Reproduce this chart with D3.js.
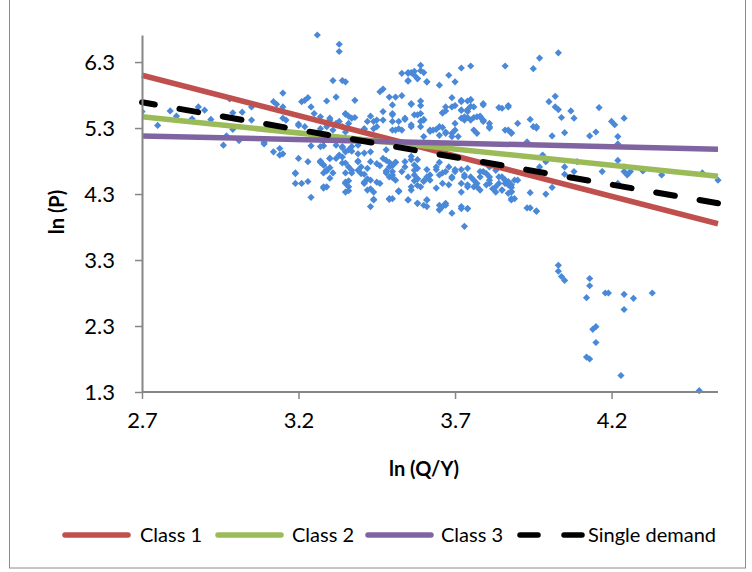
<!DOCTYPE html>
<html>
<head>
<meta charset="utf-8">
<script src="https://cdn.jsdelivr.net/npm/d3@7"></script>
<style>
  body { margin: 0; background: #fff; }
  text { font-family: Lato, "Open Sans", sans-serif; fill: #000; }
</style>
</head>
<body>
<svg id="chart" width="752" height="572"></svg>
<script>
// axis ticks
var xTicks = [2.7, 3.2, 3.7, 4.2];
var yTicks = [1.3, 2.3, 3.3, 4.3, 5.3, 6.3];

// observed points: [ln(Q/Y), ln(P)]
var observations = [
  [3.26,6.71],[2.70,5.55],[2.75,5.34],[2.79,5.56],[2.81,5.48],[2.88,5.62],[2.90,5.57],[2.86,5.44],[2.92,5.43],[2.96,5.04],
  [2.99,5.28],[2.99,5.53],[3.01,5.11],[3.02,5.54],[3.05,5.42],[3.05,5.62],[2.98,5.74],[3.09,5.08],[3.12,5.70],[3.15,5.83],
  [3.15,5.62],[3.12,4.94],[3.15,4.91],[3.14,4.99],[3.15,5.45],[3.20,4.84],[3.19,4.61],[3.19,4.46],[3.21,4.46],[3.23,4.49],
  [3.23,4.79],[3.24,4.25],[3.20,5.36],[3.21,5.70],[3.23,5.76],[3.24,5.62],[3.25,5.52],[3.27,5.47],[3.24,5.03],[3.28,5.03],
  [3.27,4.79],[3.28,4.74],[3.29,4.65],[3.29,4.41],[3.28,4.39],[3.29,5.71],[3.30,4.84],[3.30,5.42],[2.97,5.18],
  [3.33,6.57],[3.33,6.46],[3.31,6.02],[3.34,6.02],[3.35,6.00],[3.47,5.89],[3.46,5.85],[3.49,5.77],[3.32,5.77],[3.38,5.72],
  [3.22,5.72],[3.13,5.66],[3.50,5.65],[3.51,5.77],[3.47,5.55],[3.50,5.52],[3.43,5.48],[3.42,5.40],[3.45,5.42],[3.47,5.42],
  [3.50,5.40],[3.45,5.32],[3.51,5.27],[3.35,5.52],[3.36,5.48],[3.38,5.46],[3.30,5.45],[3.33,5.40],[3.16,5.42],[3.20,5.34],
  [3.22,5.32],[3.27,5.29],[3.41,5.28],[3.31,5.27],[3.35,5.24],
  [3.53,6.13],[3.55,6.13],[3.56,6.14],[3.57,6.10],[3.59,6.17],[3.60,6.14],[3.55,6.02],[3.58,6.05],[3.59,6.25],[3.61,6.00],
  [3.65,5.95],[3.68,6.10],[3.70,6.00],[3.72,6.21],[3.75,6.24],[3.86,6.24],[3.53,5.79],[3.56,5.67],[3.69,5.76],[3.72,5.72],
  [3.74,5.71],[3.75,5.73],[3.79,5.67],[3.85,5.60],[3.87,5.62],[3.67,5.62],[3.66,5.53],[3.70,5.64],[3.72,5.57],[3.74,5.58],
  [3.76,5.62],[3.74,5.46],[3.76,5.46],[3.73,5.42],[3.78,5.47],[3.79,5.42],[3.81,5.37],[3.81,5.30],[3.87,5.27],[3.88,5.23],
  [3.90,5.37],[3.50,5.50],[3.52,5.40],[3.54,5.45],[3.56,5.32],[3.57,5.50],[3.59,5.52],[3.60,5.42],[3.59,5.32],[3.62,5.27],
  [3.64,5.28],[3.65,5.19],[3.66,5.31],[3.67,5.24],[3.69,5.22],[3.70,5.37],[3.69,5.17],[3.44,5.40],[3.41,5.29],[3.44,5.29],
  [3.37,5.45],[3.35,5.51],[3.36,5.37],[3.34,5.32],[3.32,5.37],[3.29,5.32],
  [3.28,5.10],[3.27,5.02],[3.32,5.04],[3.33,4.89],[3.32,4.84],[3.34,4.86],[3.30,4.84],[3.28,4.74],[3.27,4.80],[3.28,4.62],
  [3.28,4.41],[3.31,4.62],[3.30,4.54],[3.34,5.02],[3.35,4.94],[3.37,5.02],[3.39,5.04],[3.36,4.71],[3.35,4.62],[3.37,4.62],
  [3.39,4.80],[3.39,4.66],[3.40,4.71],[3.35,4.46],[3.36,4.41],[3.35,4.33],[3.41,4.60],[3.42,4.53],[3.41,4.46],[3.43,4.51],
  [3.42,4.36],[3.44,4.21],[3.43,4.11],[3.46,4.46],[3.45,4.76],[3.48,4.62],[3.49,4.71],[3.48,4.81],[3.49,4.23],[3.49,4.56],
  [3.51,4.51],[3.50,4.64],[3.52,4.34],[3.54,4.71],[3.55,4.56],[3.56,4.41],[3.57,4.59],[3.58,4.69],[3.58,4.53],[3.55,4.21],
  [3.58,4.16],[3.60,4.13],[3.61,4.21],[3.59,4.41],[3.60,4.49],[3.61,4.56],[3.62,4.51],[3.65,4.06],[3.65,4.13],[3.67,4.13],
  [3.69,4.01],[3.73,3.81],[3.72,4.11],[3.74,4.08],[3.64,4.67],[3.65,4.78],[3.66,4.62],[3.68,4.71],[3.69,4.56],[3.70,4.67],
  [3.72,4.46],[3.73,4.56],[3.74,4.41],[3.76,4.51],[3.77,4.41],[3.78,4.56],[3.79,4.64],[3.81,4.56],[3.81,4.46],[3.83,4.41],
  [3.84,4.56],[3.86,4.46],[3.87,4.49],[3.88,4.34],[3.88,4.23],[3.85,4.36],
  [3.09,5.06],[3.14,4.89],[3.19,4.62],[3.27,4.78],[3.29,4.67],[3.30,4.70],[3.34,4.77],[3.35,4.77],[3.34,5.00],[3.36,4.97],
  [3.37,4.95],[3.37,4.66],[3.39,4.79],[3.40,4.61],[3.42,4.69],[3.43,4.79],[3.35,4.48],[3.36,4.50],[3.36,4.35],[3.41,4.48],
  [3.43,4.38],[3.44,4.33],[3.44,4.22],[3.45,4.48],[3.46,4.73],[3.48,4.65],[3.49,4.78],[3.50,4.55],[3.51,4.78],[3.49,4.22],
  [3.52,4.35],[3.39,4.91],[3.41,4.92],[3.43,4.94],[3.47,4.84],[3.48,4.97],
  [3.55,6.14],[3.57,6.16],[3.58,6.05],[3.55,6.01],[3.61,6.00],[3.95,6.20],[3.97,6.36],[3.56,5.66],[3.59,5.71],[3.59,5.64],
  [3.58,5.50],[3.60,5.43],[3.59,5.40],[3.54,5.43],[3.52,5.29],[3.50,5.27],[3.53,5.27],[3.56,5.35],[3.67,5.56],[3.66,5.53],
  [3.69,5.62],[3.72,5.70],[3.75,5.73],[3.75,5.63],[3.74,5.55],[3.72,5.57],[3.73,5.47],[3.72,5.45],[3.75,5.42],[3.77,5.47],
  [3.79,5.65],[3.78,5.48],[3.79,5.40],[3.81,5.32],[3.79,5.41],[3.84,5.61],[3.87,5.64],[3.94,5.43],[3.95,5.32],[3.96,5.30],
  [3.86,5.27],[3.88,5.22],[3.63,5.27],[3.65,5.32],[3.67,5.22],[3.70,5.27],[3.71,5.17],[3.76,5.27],[3.77,5.22],[3.62,5.25],
  [3.60,5.17],
  [3.51,4.78],[3.50,4.73],[3.50,4.59],[3.53,4.64],[3.54,4.79],[3.56,4.82],[3.57,4.74],[3.57,4.66],[3.56,4.87],[3.58,4.82],
  [3.57,4.50],[3.58,4.53],[3.60,4.50],[3.58,4.43],[3.52,4.34],[3.56,4.36],[3.55,4.21],[3.58,4.16],[3.61,4.21],[3.61,4.11],
  [3.65,4.06],[3.66,4.11],[3.67,4.16],[3.72,4.08],[3.74,4.08],[3.61,4.67],[3.62,4.59],[3.64,4.71],[3.65,4.59],[3.67,4.64],
  [3.66,4.46],[3.64,4.39],[3.68,4.44],[3.69,4.54],[3.70,4.64],[3.72,4.67],[3.73,4.59],[3.74,4.69],[3.75,4.56],[3.72,4.33],
  [3.74,4.44],[3.76,4.41],[3.77,4.46],[3.78,4.36],[3.80,4.44],[3.81,4.51],[3.82,4.38],[3.83,4.33],[3.84,4.46],[3.85,4.36],
  [3.86,4.51],[3.87,4.31],[3.88,4.44],[3.89,4.51],[3.85,4.56],[3.83,4.66],[3.81,4.71],[3.78,4.64],[3.80,4.61],[3.88,4.21],
  [3.94,4.32],[3.94,4.09],[3.96,4.04],[3.50,4.23],
  [4.03,6.44],[3.96,5.32],[4.00,5.70],[4.02,5.78],[4.02,5.62],[4.03,5.58],[4.07,5.56],[4.08,5.45],[4.04,5.46],[4.16,5.61],
  [4.01,5.18],[4.05,5.23],[4.13,5.18],[4.15,5.24],[4.20,5.40],[4.21,5.35],[4.24,5.45],[4.22,5.17],[4.22,5.06],[3.93,5.09],
  [3.98,4.89],[3.99,4.79],[3.97,4.71],[4.05,4.71],[4.05,4.60],[4.08,4.64],[4.09,4.79],[4.17,4.64],[4.22,4.81],[4.24,4.64],
  [4.25,4.59],[4.26,4.64],[4.24,4.71],[4.22,4.46],[4.30,4.65],[4.36,4.59],[4.49,4.62],[4.54,4.51],[3.86,4.51],[3.87,4.44],
  [3.88,4.40],[3.90,4.51],[3.88,4.33],[3.89,4.23],[3.99,4.30],[4.01,4.40],[3.93,4.09],[3.96,4.04],
  [4.03,3.22],[4.03,3.13],[4.04,3.05],[4.05,2.99],[4.13,3.02],[4.13,2.91],[4.12,2.73],[4.18,2.80],[4.19,2.80],[4.24,2.78],
  [4.27,2.72],[4.33,2.80],[4.24,2.55],[4.14,2.25],[4.15,2.29],[4.15,2.05],[4.12,1.83],[4.13,1.80],[4.23,1.55],[4.48,1.32]
];

// fitted demand lines, value at each end of the x range
var fitNames = ['Class 1', 'Class 2', 'Class 3', 'Single demand'];
var fitX = [2.7, 4.54];
var class1Y = [6.10, 3.85];
var class2Y = [5.47, 4.57];
var class3Y = [5.18, 4.98];
var singleY = [5.69, 4.16];

var fitColors = ['#C0504D', '#9BBB59', '#8064A2', '#000000'];

var svg = d3.select('#chart');

// outer chart frame
svg.append('rect')
  .attr('x', 9.5).attr('y', -5)
  .attr('width', 736).attr('height', 573)
  .attr('fill', 'none').attr('stroke', '#8c8c8c').attr('stroke-width', 1);

var x = d3.scaleLinear().domain([2.7, 4.54]).range([142, 718]);
var y = d3.scaleLinear().domain([1.3, 6.71]).range([392, 35]);

var plot = svg.append('g');

plot.append('clipPath').attr('id', 'clip')
  .append('rect').attr('x', 142).attr('y', 30).attr('width', 580).attr('height', 366);

// scatter points as small diamonds
var diamond = d3.symbol(d3.symbolSquare, 26);
plot.append('g').attr('clip-path', 'url(#clip)')
  .selectAll('path.pt')
  .data(observations)
  .enter().append('path')
  .attr('class', 'pt')
  .attr('d', diamond)
  .attr('fill', '#4A88D8')
  .attr('transform', function (d) {
    return 'translate(' + x(d[0]) + ',' + y(d[1]) + ') rotate(45)';
  });

// fitted lines
var fits = [class1Y, class2Y, class3Y, singleY].map(function (ys, i) {
  return { name: fitNames[i], color: fitColors[i], pts: fitX.map(function (xv, j) { return [xv, ys[j]]; }) };
});

var line = d3.line().x(function (d) { return x(d[0]); }).y(function (d) { return y(d[1]); });

plot.selectAll('path.fit')
  .data(fits)
  .enter().append('path')
  .attr('class', 'fit')
  .attr('d', function (d) { return line(d.pts); })
  .attr('fill', 'none')
  .attr('stroke', function (d) { return d.color; })
  .attr('stroke-width', function (d, i) { return i === 3 ? 6 : 5.5; })
  .attr('stroke-linecap', function (d, i) { return i === 3 ? 'round' : 'butt'; })
  .attr('stroke-dasharray', function (d, i) { return i === 3 ? '19 25' : null; })
  .attr('stroke-dashoffset', function (d, i) { return i === 3 ? 6 : null; });

// axes
var xAxis = d3.axisBottom(x).tickValues(xTicks).tickFormat(d3.format('.1f')).tickSize(7).tickSizeOuter(0);
var yAxis = d3.axisLeft(y).tickValues(yTicks).tickFormat(d3.format('.1f')).tickSize(7).tickSizeOuter(0);

var gx = svg.append('g').attr('transform', 'translate(0,392)').call(xAxis);
var gy = svg.append('g').attr('transform', 'translate(142,0)').call(yAxis);

[gx, gy].forEach(function (g) {
  g.select('.domain').attr('stroke', '#868686').attr('stroke-width', 2);
  g.selectAll('.tick line').attr('stroke', '#868686').attr('stroke-width', 1.5);
  g.selectAll('.tick text').attr('font-size', 22).attr('font-family', 'Lato, sans-serif').attr('fill', '#000');
});
gx.selectAll('.tick text').attr('y', 20);
gy.selectAll('.tick text').attr('x', -27).attr('dy', '0.35em');
// x-axis line starts at the y axis
gx.select('.domain').attr('d', 'M142,0H718');

// axis titles
svg.append('text')
  .attr('x', 424).attr('y', 476)
  .attr('text-anchor', 'middle')
  .attr('font-size', 20).attr('font-weight', 'bold')
  .text('ln (Q/Y)');

svg.append('text')
  .attr('transform', 'translate(64,212) rotate(-90)')
  .attr('text-anchor', 'middle')
  .attr('font-size', 20).attr('font-weight', 'bold')
  .text('ln (P)');

// legend
var legendX = [65, 218, 368, 520];
var legendTextX = [140, 292, 441, 588];
var legend = svg.selectAll('g.leg')
  .data(fits)
  .enter().append('g')
  .attr('class', 'leg');

legend.append('line')
  .attr('x1', function (d, i) { return legendX[i]; })
  .attr('x2', function (d, i) { return legendX[i] + 63; })
  .attr('y1', 535).attr('y2', 535)
  .attr('stroke', function (d) { return d.color; })
  .attr('stroke-width', 5.5)
  .attr('stroke-linecap', 'round')
  .attr('stroke-dasharray', function (d, i) { return i === 3 ? '18 26' : null; });

legend.append('text')
  .attr('x', function (d, i) { return legendTextX[i]; })
  .attr('y', 535)
  .attr('dy', '0.35em')
  .attr('font-size', 20)
  .text(function (d) { return d.name; });
</script>
</body>
</html>
